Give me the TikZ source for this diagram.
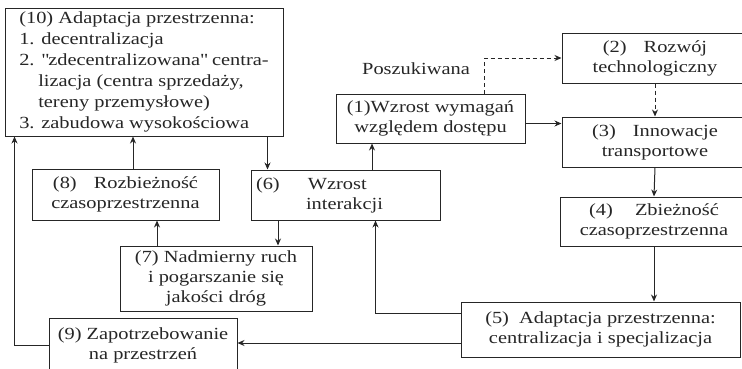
\documentclass[tikz,border=0pt]{standalone}
\usepackage{fontspec}
\setmainfont[FakeStretch=1.2]{Liberation Serif}
\usetikzlibrary{arrows.meta, positioning}
\definecolor{cBlock}{HTML}{FFFFFF}
\definecolor{cBlockText}{HTML}{262626}
\definecolor{cLine}{HTML}{262626}
\tikzset{
  block/.style = {
    rectangle,
    draw=cLine,
    line width=1pt,
    fill=cBlock,
    text=cBlockText,
    align=center,
    inner sep=3pt,
    font=\fontsize{17}{20}\selectfont
  },
  boxsize/.style 2 args = {
    minimum width=#1pt,
    minimum height=#2pt
  },
  line/.style = {
    draw,
    line width=1pt,
    color=cLine,
    ->,
    >={Stealth[length=7pt, width=6pt]},
  },
  hint/.style = {
    dash pattern=on 4pt off 3pt
  },
}

\begin{document}
\begin{tikzpicture}[x=1pt, y=-1pt]
    \useasboundingbox (0,0) rectangle (742,368);
    % boxes
    \node [block, boxsize={278}{128}, align=left, font=\fontsize{17}{21}\selectfont] (b10) at (144,72)
      {(10) Adaptacja przestrzenna:\\
       1. decentralizacja\\
       2. \textquotedbl zdecentralizowana\textquotedbl\ centra-\\
       \hspace*{19pt}lizacja (centra sprzedaży,\\
       \hspace*{19pt}tereny przemysłowe)\\
       3. zabudowa wysokościowa};
    \node [block, boxsize={189}{49}] (b1) at (430.5,118.5) {(1)Wzrost wymagań\\względem dostępu};
    \node [block, boxsize={186}{50}] (b2) at (655,58) {(2)\quad Rozwój\\technologiczny};
    \node [block, boxsize={186}{50}] (b3) at (655,142) {(3)\quad Innowacje\\transportowe};
    \node [block, boxsize={188}{49}] (b4) at (654,221.5) {(4)\quad\ Zbieżność\\czasoprzestrzenna};
    \node [block, boxsize={279}{55}] (b5) at (600.5,329.5) {(5)\ \ Adaptacja przestrzenna:\\centralizacja i specjalizacja};
    \node [block, boxsize={189}{50}, align=left, text width=179pt, inner xsep=5pt] (b6) at (345.5,195)
      {(6)\hspace{28pt}Wzrost\\\hspace*{50pt}interakcji};
    \node [block, boxsize={192}{65}] (b7) at (216,278.5) {(7) Nadmierny ruch\\i pogarszanie się\\jakości dróg};
    \node [block, boxsize={187}{51}] (b8) at (125.5,194.5) {(8)\quad Rozbieżność\\czasoprzestrzenna};
    \node [block, boxsize={188}{54}] (b9) at (143,345) {(9) Zapotrzebowanie\\na przestrzeń};
    \node [font=\fontsize{17}{20}\selectfont, text=cBlockText] (seek) at (416,69) {Poszukiwana};
    % connectors
    \coordinate (c1) at ([yshift=-5pt]b1.east);
    \coordinate (c5a) at ([yshift=16.5pt]b5.west);
    \coordinate (c5b) at ([yshift=-13.5pt]b5.west);
    \coordinate (c9) at ([xshift=-34pt]b9.west);
    \path [line, hint] ([xshift=53.5pt]b1.north) |- (b2.west);
    \path [line, hint] (b2.south) -- (b3.north);
    \path [line] (c1) -- (c1 -| b3.west);
    \path [line] (b3.south) -- (b4.north);
    \path [line] (b4.south) -- (b4.south |- b5.north);
    \path [line] (c5a) -| ([xshift=30pt]b6.south);
    \path [line] (c5b) -- (c5b -| b9.east);
    \path [line] (b9.west) -- (c9) -- (c9 |- b10.south);
    \path [line] ([xshift=7.5pt]b8.north) -- ([xshift=7.5pt]b8.north |- b10.south);
    \path [line] ([xshift=-16pt]b10.south east) -- ([xshift=-16pt]b10.south east |- b6.north);
    \path [line] ([xshift=26.5pt]b6.north) -- ([xshift=26.5pt]b6.north |- b1.south);
    \path [line] ([xshift=-67.5pt]b6.south) -- ([xshift=-67.5pt]b6.south |- b7.north);
    \path [line] ([xshift=-59pt]b7.north) -- ([xshift=-59pt]b7.north |- b8.south);
\end{tikzpicture}
\end{document}
